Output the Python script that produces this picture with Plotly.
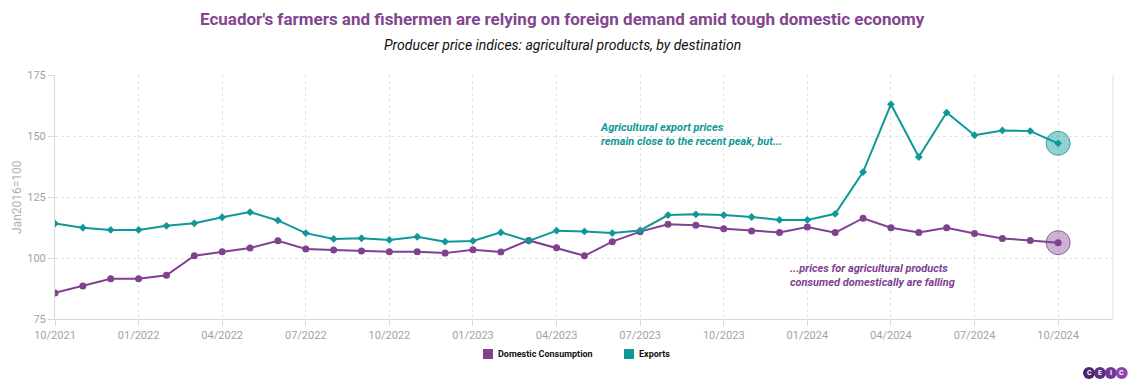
import plotly.graph_objects as go

months = ["10/2021", "11/2021", "12/2021", "01/2022", "02/2022", "03/2022", "04/2022", "05/2022",
          "06/2022", "07/2022", "08/2022", "09/2022", "10/2022", "11/2022", "12/2022", "01/2023",
          "02/2023", "03/2023", "04/2023", "05/2023", "06/2023", "07/2023", "08/2023", "09/2023",
          "10/2023", "11/2023", "12/2023", "01/2024", "02/2024", "03/2024", "04/2024", "05/2024",
          "06/2024", "07/2024", "08/2024", "09/2024", "10/2024"]

exports = [114.1, 112.4, 111.5, 111.5, 113.2, 114.2, 116.7, 118.8, 115.4, 110.2, 107.8, 108.1,
           107.4, 108.7, 106.7, 107.0, 110.5, 107.0, 111.2, 110.9, 110.2, 111.3, 117.6, 117.9,
           117.6, 116.8, 115.6, 115.6, 118.1, 135.2, 163.0, 141.4, 159.6, 150.3, 152.3, 152.0, 147.0]

domestic = [85.7, 88.5, 91.5, 91.5, 92.9, 100.9, 102.6, 104.1, 107.1, 103.7, 103.3, 102.9,
            102.6, 102.6, 102.0, 103.4, 102.5, 107.2, 104.2, 100.9, 106.7, 110.8, 113.8, 113.4,
            112.0, 111.1, 110.5, 112.7, 110.4, 116.3, 112.4, 110.5, 112.4, 110.0, 108.0, 107.2, 106.3]

series_names = ["Domestic Consumption", "Exports"]
tick_labels = months[::3]
y_ticks = [75, 100, 125, 150, 175]

PURPLE = "#80418f"
TEAL = "#109797"
GREY = "#a3a3a3"

# layout geometry (pixels); page body has an 8px margin
OFF = 8
W, H = 1121, 373
L, R, T, B = 47, 16, 67, 62
PW, PH = W - L - R, H - T - B


def px(xp):
    return (xp - OFF - L) / PW


def py(yp):
    return (H - B - (yp - OFF)) / PH


fig = go.Figure()

# highlight circles on last points
fig.add_trace(go.Scatter(x=[months[-1]], y=[exports[-1]], mode="markers",
                         marker=dict(size=24, color="rgba(16,151,151,0.45)",
                                     line=dict(color="rgba(16,151,151,0.8)", width=1)),
                         showlegend=False, hoverinfo="skip"))
fig.add_trace(go.Scatter(x=[months[-1]], y=[domestic[-1]], mode="markers",
                         marker=dict(size=24, color="rgba(128,65,143,0.4)",
                                     line=dict(color="rgba(128,65,143,0.8)", width=1)),
                         showlegend=False, hoverinfo="skip"))

fig.add_trace(go.Scatter(x=months, y=domestic, mode="lines+markers", name=series_names[0],
                         line=dict(color=PURPLE, width=2),
                         marker=dict(symbol="circle", size=7, color=PURPLE),
                         showlegend=False))
fig.add_trace(go.Scatter(x=months, y=exports, mode="lines+markers", name=series_names[1],
                         line=dict(color=TEAL, width=2),
                         marker=dict(symbol="diamond", size=6, color=TEAL),
                         showlegend=False))

fig.update_layout(
    width=W, height=H,
    margin=dict(l=L, r=R, t=T, b=B, autoexpand=False),
    plot_bgcolor="white", paper_bgcolor="white",
    font=dict(family="Roboto", color=GREY, size=11),
    showlegend=False,
)

fig.update_xaxes(
    type="category", categoryorder="array", categoryarray=months,
    range=[0, 37.97],
    tickmode="array", tickvals=tick_labels, ticktext=tick_labels,
    showgrid=True, gridcolor="#e3e3e3", griddash="dot", gridwidth=1,
    showline=True, linecolor="#d8d8d8", linewidth=1,
    ticks="outside", ticklen=6, tickcolor="#d8d8d8",
    tickfont=dict(size=11, color=GREY), zeroline=False, automargin=False,
)
fig.update_yaxes(
    range=[75, 175], tickvals=y_ticks,
    showgrid=True, gridcolor="#e3e3e3", griddash="dot", gridwidth=1,
    showline=True, linecolor="#d8d8d8", linewidth=1,
    ticks="outside", ticklen=6, tickcolor="#d8d8d8",
    tickfont=dict(size=11, color=GREY), zeroline=False, automargin=False,
)

# right border line
fig.add_shape(type="line", xref="paper", yref="paper", x0=1, x1=1, y0=0, y1=1,
              line=dict(color="#e0e0e0", width=1))

# title & subtitle
fig.add_annotation(x=px(562), y=py(19), xref="paper", yref="paper", showarrow=False,
                   xanchor="center", yanchor="middle",
                   text="<b>Ecuador's farmers and fishermen are relying on foreign demand amid tough domestic economy</b>",
                   font=dict(family="Roboto", size=17, color="#82468f"))
fig.add_annotation(x=px(562), y=py(45), xref="paper", yref="paper", showarrow=False,
                   xanchor="center", yanchor="middle",
                   text="<i>Producer price indices: agricultural products, by destination</i>",
                   font=dict(family="Roboto", size=14, color="#111111"))

# y-axis title
fig.add_annotation(x=px(17), y=py(197), xref="paper", yref="paper", showarrow=False,
                   xanchor="center", yanchor="middle",
                   text="Jan2016=100", textangle=-90,
                   font=dict(family="Roboto", size=12, color="#b0b0b0"))

fig.add_annotation(x=19.5, y=150.8, xref="x", yref="y", xanchor="left", yanchor="middle",
                   align="left", showarrow=False,
                   text="<b><i>Agricultural export prices<br>remain close to the recent peak, but...</i></b>",
                   font=dict(family="Roboto", size=11, color=TEAL))
fig.add_annotation(x=26.3, y=93.0, xref="x", yref="y", xanchor="left", yanchor="middle",
                   align="left", showarrow=False,
                   text="<b><i>...prices for agricultural products<br>consumed domestically are falling</i></b>",
                   font=dict(family="Roboto", size=11, color=PURPLE))

# manual legend
legend_items = [(series_names[0], PURPLE, 488), (series_names[1], TEAL, 629)]
for name, col, sx in legend_items:
    fig.add_shape(type="rect", xref="paper", yref="paper",
                  xsizemode="pixel", ysizemode="pixel",
                  xanchor=px(sx), yanchor=py(354),
                  x0=-5, x1=5, y0=-5, y1=5,
                  fillcolor=col, line=dict(width=0))
    fig.add_annotation(x=px(sx + 8), y=py(354), xref="paper", yref="paper",
                       xanchor="left", yanchor="middle", showarrow=False, text=f"<b>{name}</b>",
                       font=dict(family="Roboto", size=9, color="#111111"))

# CEIC logo
logo_cols = ["#4a2870", "#5e2d86", "#74369b", "#8a44ad"]
logo_letters = ["C", "E", "I", "C"]
for i, (c, l) in enumerate(zip(logo_cols, logo_letters)):
    cx = 1089 + i * 10.9
    cy = 373
    fig.add_shape(type="circle", xref="paper", yref="paper",
                  xsizemode="pixel", ysizemode="pixel",
                  xanchor=px(cx), yanchor=py(cy),
                  x0=-6, x1=6, y0=-6, y1=6,
                  fillcolor=c, line=dict(width=0))
    fig.add_annotation(x=px(cx), y=py(cy), xref="paper", yref="paper",
                       xanchor="center", yanchor="middle",
                       text=f"<b>{l}</b>", showarrow=False,
                       font=dict(family="Roboto", size=7, color="white"))

fig.write_html("out.html")
